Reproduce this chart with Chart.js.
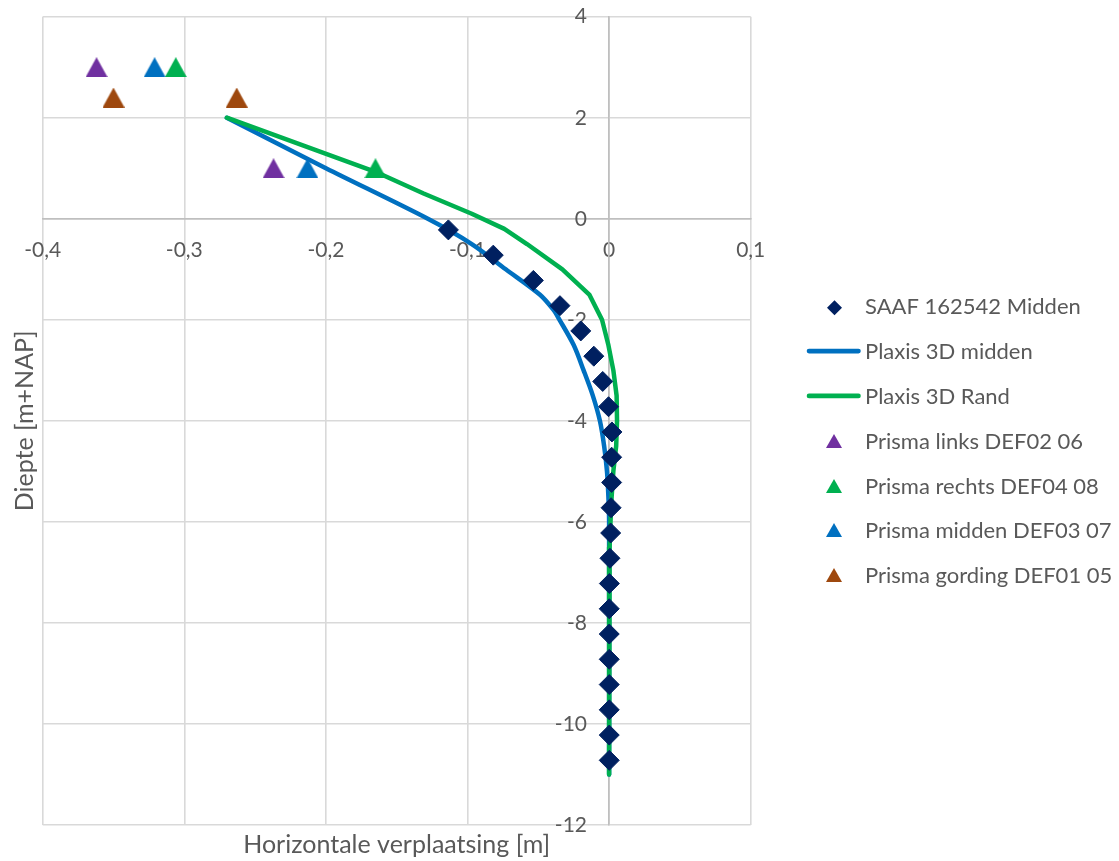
<!DOCTYPE html>
<html>
<head>
<meta charset="utf-8">
<title>Horizontale verplaatsing</title>
<script src="https://cdn.jsdelivr.net/npm/chart.js@4.4.1/dist/chart.umd.min.js"></script>
<style>
  html, body { margin: 0; padding: 0; background: #ffffff; }
  #wrap { width: 1119px; height: 861px; position: relative; }
</style>
</head>
<body>
<div id="wrap"><canvas id="chart" width="1119" height="861"></canvas></div>
<script>
// ---- Axis ticks ----
const xTickValues = [-0.4, -0.3, -0.2, -0.1, 0, 0.1];
const yTickValues = [4, 2, 0, -2, -4, -6, -8, -10, -12];

// ---- SAAF 162542 Midden (measured) ----
const saafDepth = [-0.22, -0.72, -1.22, -1.72, -2.22, -2.72, -3.22, -3.72, -4.22, -4.72, -5.22,
                   -5.72, -6.22, -6.72, -7.22, -7.72, -8.22, -8.72, -9.22, -9.72, -10.22, -10.72];
const saafDisp  = [-0.1135, -0.0818, -0.0535, -0.0347, -0.0200, -0.0108, -0.0045, -0.0004, 0.0020, 0.0018, 0.0018,
                   0.0014, 0.0011, 0.0006, 0.0002, 0.0001, 0.0001, 0.0001, 0.0001, 0.0001, 0.0001, 0.0001];

// ---- Plaxis 3D midden ----
const plaxisMiddenDepth = [2.0, 1.0, 0.0, -0.5, -1.0, -1.5, -1.8, -2.0, -2.5, -3.0, -3.5, -4.0, -4.5, -5.0, -5.5, -6.0, -11.0];
const plaxisMiddenDisp  = [-0.270, -0.200, -0.128, -0.097, -0.073, -0.049, -0.0394, -0.035, -0.025, -0.018, -0.0115, -0.0065, -0.0035, -0.0015, -0.0005, 0, 0];

// ---- Plaxis 3D Rand ----
const plaxisRandDepth = [2.0, 0.93, 0.5, 0.1, -0.2, -0.5, -1.0, -1.5, -2.0, -2.5, -3.0, -3.5, -4.0, -4.5, -5.0, -5.5, -6.0, -6.5, -7.0, -11.0];
const plaxisRandDisp  = [-0.270, -0.165, -0.131, -0.097, -0.074, -0.058, -0.033, -0.014, -0.005, -0.0005, 0.003, 0.0053, 0.0056, 0.005, 0.003, 0.0018, 0.001, 0.0004, 0, 0];

// ---- Prisma measurements ----
const prismaLinksDepth   = [3.0, 1.0];
const prismaLinksDisp    = [-0.362, -0.237];
const prismaRechtsDepth  = [3.0, 1.0];
const prismaRechtsDisp   = [-0.306, -0.165];
const prismaMiddenDepth  = [3.0, 1.0];
const prismaMiddenDisp   = [-0.321, -0.213];
const prismaGordingDepth = [2.4, 2.4];
const prismaGordingDisp  = [-0.350, -0.263];

const xTitle = 'Horizontale verplaatsing [m]';
const yTitle = 'Diepte [m+NAP]';

const FONT = "Lato, Carlito, 'Open Sans', sans-serif";
const TEXT = '#595959';
const GRID = '#d9d9d9';
const AXIS = '#bfbfbf';

const toPoints = (xs, ys) => xs.map((x, i) => ({ x: x, y: ys[i] }));

// Triangle marker drawn into a small canvas so it sits centred on its point
function triangle(color, w, h) {
  const c = document.createElement('canvas');
  c.width = w; c.height = h;
  const g = c.getContext('2d');
  g.fillStyle = color;
  g.beginPath();
  g.moveTo(w / 2, 0);
  g.lineTo(w, h);
  g.lineTo(0, h);
  g.closePath();
  g.fill();
  return c;
}

const COLORS = {
  saaf: '#002060',
  midden: '#0070c0',
  rand: '#00b050',
  purple: '#7030a0',
  brown: '#9e480e'
};

function prismaSet(label, xs, ys, color) {
  return {
    label: label,
    data: toPoints(xs, ys),
    showLine: false,
    pointStyle: triangle(color, 22, 20),
    legendMarker: triangle(color, 16, 14),
    pointRadius: 11,
    backgroundColor: color,
    borderColor: color,
    order: 1
  };
}

const datasets = [
  {
    label: 'SAAF 162542 Midden',
    data: toPoints(saafDisp, saafDepth),
    showLine: false,
    pointStyle: 'rectRot',
    pointRadius: 10,
    pointBorderWidth: 1,
    pointBackgroundColor: COLORS.saaf,
    pointBorderColor: COLORS.saaf,
    backgroundColor: COLORS.saaf,
    borderColor: COLORS.saaf,
    order: 0
  },
  {
    label: 'Plaxis 3D midden',
    data: toPoints(plaxisMiddenDisp, plaxisMiddenDepth),
    showLine: true,
    pointRadius: 0,
    borderWidth: 4.5,
    borderColor: COLORS.midden,
    backgroundColor: COLORS.midden,
    borderCapStyle: 'round',
    borderJoinStyle: 'round',
    tension: 0.3,
    fill: false,
    order: 3
  },
  {
    label: 'Plaxis 3D Rand',
    data: toPoints(plaxisRandDisp, plaxisRandDepth),
    showLine: true,
    pointRadius: 0,
    borderWidth: 4.5,
    borderColor: COLORS.rand,
    backgroundColor: COLORS.rand,
    borderCapStyle: 'round',
    borderJoinStyle: 'round',
    tension: 0,
    fill: false,
    order: 2
  },
  prismaSet('Prisma links DEF02 06', prismaLinksDisp, prismaLinksDepth, COLORS.purple),
  prismaSet('Prisma rechts DEF04 08', prismaRechtsDisp, prismaRechtsDepth, COLORS.rand),
  prismaSet('Prisma midden DEF03 07', prismaMiddenDisp, prismaMiddenDepth, COLORS.midden),
  prismaSet('Prisma gording DEF01 05', prismaGordingDisp, prismaGordingDepth, COLORS.brown)
];

// Axis titles and the series key on the right
const chartDecorations = {
  id: 'chartDecorations',
  afterDraw(chart) {
    const ctx = chart.ctx;
    const a = chart.chartArea;
    ctx.save();
    ctx.fillStyle = TEXT;
    ctx.font = '25px ' + FONT;
    ctx.textAlign = 'center';
    ctx.textBaseline = 'alphabetic';
    ctx.fillText(xTitle, (a.left + a.right) / 2, 853);
    ctx.save();
    ctx.translate(32.5, (a.top + a.bottom) / 2);
    ctx.rotate(-Math.PI / 2);
    ctx.fillText(yTitle, 0, 0);
    ctx.restore();

    // key
    const keyTop = 306.3, keyStep = 44.8, markX = 834, textX = 865;
    ctx.font = '22px ' + FONT;
    ctx.textAlign = 'left';
    chart.data.datasets.forEach((ds, i) => {
      const cy = keyTop + i * keyStep;
      if (ds.showLine) {
        ctx.save();
        ctx.strokeStyle = ds.borderColor;
        ctx.lineWidth = 4.6;
        ctx.lineCap = 'round';
        ctx.beginPath();
        ctx.moveTo(809, cy);
        ctx.lineTo(858.5, cy);
        ctx.stroke();
        ctx.restore();
      } else if (ds.legendMarker) {
        const m = ds.legendMarker;
        ctx.drawImage(m, Math.round(markX - m.width / 2), Math.round(cy - m.height / 2));
      } else {
        const px = markX + 0.5, py = cy + 1.5, r = 7.5;
        ctx.fillStyle = ds.pointBackgroundColor;
        ctx.beginPath();
        ctx.moveTo(px, py - r);
        ctx.lineTo(px + r, py);
        ctx.lineTo(px, py + r);
        ctx.lineTo(px - r, py);
        ctx.closePath();
        ctx.fill();
      }
      ctx.fillStyle = TEXT;
      ctx.fillText(ds.label, textX, cy + 8);
    });
    ctx.restore();
  }
};

const fmtX = v => (v === 0 ? '0' : String(v).replace('.', ','));

new Chart(document.getElementById('chart'), {
  type: 'scatter',
  data: { datasets: datasets },
  options: {
    responsive: false,
    animation: false,
    devicePixelRatio: 1,
    events: [],
    layout: { padding: { left: 42.7, right: 368.3, top: 16.7, bottom: 36 } },
    plugins: { legend: { display: false }, tooltip: { enabled: false } },
    scales: {
      x: {
        type: 'linear',
        position: { y: 0 },
        min: -0.4,
        max: 0.1,
        afterBuildTicks: s => { s.ticks = xTickValues.map(v => ({ value: v })); },
        ticks: {
          callback: v => fmtX(v),
          color: TEXT,
          font: { family: FONT, size: 21 },
          padding: 18.6,
          maxRotation: 0,
          autoSkip: false
        },
        grid: {
          color: c => (c.tick && c.tick.value === 0 ? AXIS : GRID),
          lineWidth: 1.6,
          drawTicks: false
        },
        border: { display: true, color: AXIS, width: 1.6 }
      },
      y: {
        type: 'linear',
        position: { x: 0 },
        min: -12,
        max: 4,
        afterBuildTicks: s => { s.ticks = yTickValues.map(v => ({ value: v })); },
        ticks: { display: false },
        grid: {
          color: c => (c.tick && c.tick.value === 0 ? AXIS : GRID),
          lineWidth: 1.6,
          drawTicks: false
        },
        border: { display: true, color: AXIS, width: 1.6 }
      },
      yLabels: {
        type: 'linear',
        axis: 'y',
        position: { x: -0.0156 },
        min: -12,
        max: 4,
        afterBuildTicks: s => { s.ticks = yTickValues.map(v => ({ value: v })); },
        ticks: {
          callback: v => String(v),
          color: TEXT,
          font: { family: FONT, size: 21 },
          autoSkip: false
        },
        grid: { display: false, drawTicks: false },
        border: { display: false }
      }
    }
  },
  plugins: [chartDecorations]
});
</script>
</body>
</html>
